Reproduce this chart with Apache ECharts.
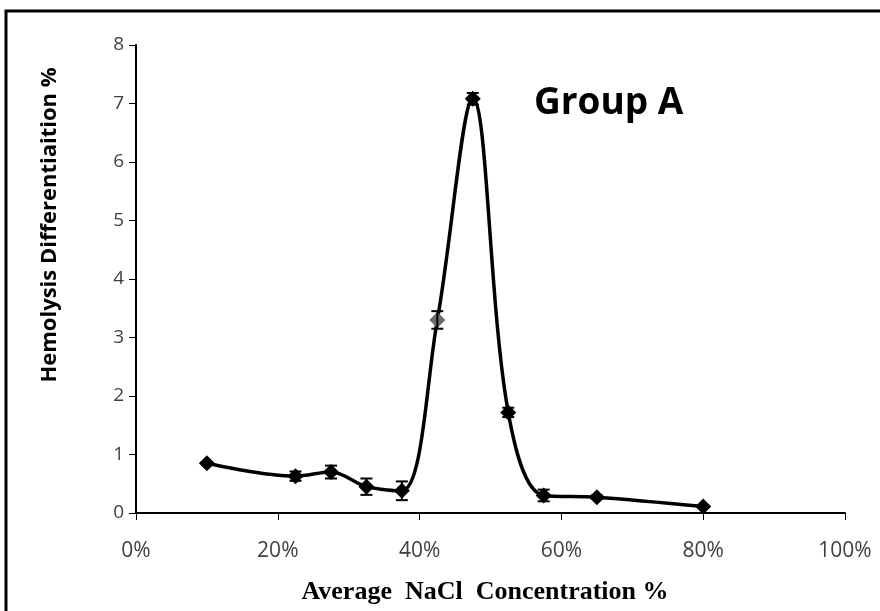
<!DOCTYPE html>
<html>
<head>
<meta charset="utf-8">
<script src="https://cdn.jsdelivr.net/npm/echarts@6/dist/echarts.min.js"></script>
<style>html,body{margin:0;padding:0;background:#fff;}#c{width:880px;height:611px;}</style>
</head>
<body>
<div id="c"></div>
<script>
const concentrations = [10, 22.5, 27.5, 32.5, 37.5, 42.5, 47.5, 52.5, 57.5, 65, 80];
const hemolysis = [0.85, 0.63, 0.70, 0.45, 0.38, 3.30, 7.08, 1.72, 0.30, 0.27, 0.11];
const errors = [0.02, 0.08, 0.11, 0.14, 0.16, 0.15, 0.1, 0.08, 0.1, 0.03, 0.02];
const highlightIndex = 5;
const xTicks = [0, 20, 40, 60, 80, 100];
const yTicks = [0, 1, 2, 3, 4, 5, 6, 7, 8];
const titleText = 'Group A';
const xName = 'Average  NaCl  Concentration %';
const yName = 'Hemolysis Differentiaition %';

const chart = echarts.init(document.getElementById('c'));
const lineData = concentrations.map((x, i) => ({
  value: [x, hemolysis[i]],
  itemStyle: i === highlightIndex ? { color: '#6b6b6b' } : undefined
}));
const errData = concentrations.map((x, i) => [x, hemolysis[i] - errors[i], hemolysis[i] + errors[i]]);

chart.setOption({
  animation: false,
  backgroundColor: '#fff',
  grid: { left: 136, right: 35, top: 45, bottom: 98, containLabel: false },
  graphic: [
    { type: 'rect', shape: { x: 6, y: 11, width: 1000, height: 1000 }, style: { fill: 'none', stroke: '#000', lineWidth: 3 }, z: 100 },
    { type: 'text', x: 534, y: 103, style: { text: titleText, font: 'bold 37px "Open Sans"', fill: '#000', textVerticalAlign: 'middle' } },
    { type: 'text', x: 50, y: 225, rotation: Math.PI / 2, style: { text: yName, font: 'bold 22px "Open Sans"', fill: '#000', textAlign: 'center', textVerticalAlign: 'middle' } },
    { type: 'text', x: 485, y: 592, style: { text: xName, font: 'bold 26px "Liberation Serif"', fill: '#000', textAlign: 'center', textVerticalAlign: 'middle' } }
  ],
  xAxis: {
    type: 'value', min: xTicks[0], max: xTicks[xTicks.length - 1], interval: 20,
    axisLine: { show: true, onZero: false, lineStyle: { color: '#000', width: 2 } },
    axisTick: { show: true, inside: false, length: 7, lineStyle: { color: '#000', width: 1 } },
    axisLabel: { margin: 28, color: '#404040', fontSize: 21, fontFamily: 'Open Sans', formatter: v => v + '%' },
    splitLine: { show: false }
  },
  yAxis: {
    type: 'value', min: yTicks[0], max: yTicks[yTicks.length - 1], interval: 1,
    axisLine: { show: true, onZero: false, lineStyle: { color: '#000', width: 2 } },
    axisTick: { show: true, inside: false, length: 7, lineStyle: { color: '#000', width: 1 } },
    axisLabel: { margin: 12, color: '#404040', fontSize: 19, fontFamily: 'Open Sans' },
    splitLine: { show: false }
  },
  series: [
    {
      type: 'line', data: lineData, smooth: 0.35,
      symbol: 'diamond', symbolSize: 16,
      lineStyle: { color: '#000', width: 3.5 },
      itemStyle: { color: '#000' }, z: 3
    },
    {
      type: 'custom', data: errData, z: 4,
      renderItem: (params, api) => {
        const x = api.value(0);
        const lo = api.coord([x, api.value(1)]);
        const hi = api.coord([x, api.value(2)]);
        const w = 6;
        const st = { stroke: '#000', lineWidth: 2 };
        return {
          type: 'group',
          children: [
            { type: 'line', shape: { x1: lo[0], y1: lo[1], x2: hi[0], y2: hi[1] }, style: st },
            { type: 'line', shape: { x1: lo[0] - w, y1: lo[1], x2: lo[0] + w, y2: lo[1] }, style: st },
            { type: 'line', shape: { x1: hi[0] - w, y1: hi[1], x2: hi[0] + w, y2: hi[1] }, style: st }
          ]
        };
      }
    }
  ]
});
</script>
</body>
</html>
